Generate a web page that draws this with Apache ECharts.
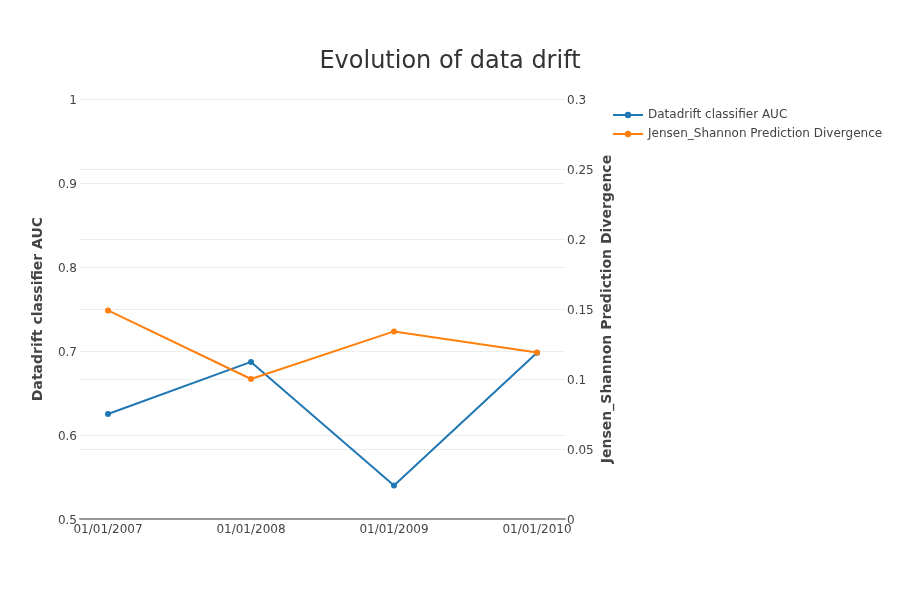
<!DOCTYPE html>
<html>
<head>
<meta charset="utf-8">
<script src="https://cdn.jsdelivr.net/npm/echarts@6/dist/echarts.min.js"></script>
<style>
  html, body { margin: 0; padding: 0; background: #fff; }
  #chart { width: 900px; height: 600px; }
</style>
</head>
<body>
<div id="chart"></div>
<script>
// dates on x, one point per year
const dates = ['01/01/2007', '01/01/2008', '01/01/2009', '01/01/2010'];
const aucValues = [0.625, 0.687, 0.54, 0.698];
const jsValues = [0.149, 0.1, 0.134, 0.119];

const chart = echarts.init(document.getElementById('chart'));
const font = 'DejaVu Sans';

chart.setOption({
  textStyle: { fontFamily: font },
  title: {
    text: 'Evolution of data drift',
    left: 'center',
    top: 45,
    textStyle: { fontSize: 24, fontWeight: 'normal', color: '#333', fontFamily: font }
  },
  legend: {
    orient: 'vertical',
    left: 607,
    top: 104,
    itemWidth: 30,
    itemHeight: 8,
    itemGap: 7,
    textStyle: { fontSize: 12, color: '#444', fontFamily: font },
    data: ['Datadrift classifier AUC', 'Jensen_Shannon Prediction Divergence']
  },
  grid: { left: 80, right: 335, top: 99, bottom: 81 },
  xAxis: {
    type: 'value',
    min: -0.196,
    max: 3.196,
    axisLine: { lineStyle: { color: '#999', width: 2 } },
    axisTick: { show: false },
    splitLine: { show: false },
    axisLabel: {
      customValues: [0, 1, 2, 3],
      formatter: v => dates[Math.round(v)],
      color: '#444',
      fontSize: 12,
      margin: 5
    }
  },
  yAxis: [
    {
      type: 'value',
      min: 0.5,
      max: 1,
      interval: 0.1,
      name: 'Datadrift classifier AUC',
      nameLocation: 'middle',
      nameGap: 35,
      nameTextStyle: { fontSize: 14, fontWeight: 'bold', color: '#444', fontFamily: font },
      axisLine: { show: false },
      axisTick: { show: false },
      axisLabel: { color: '#444', fontSize: 12, margin: 3, verticalAlign: 'top', lineHeight: 4 },
      splitLine: { lineStyle: { color: '#eeeeee', width: 1 } }
    },
    {
      type: 'value',
      min: 0,
      max: 0.3,
      interval: 0.05,
      name: 'Jensen_Shannon Prediction Divergence',
      nameLocation: 'middle',
      nameGap: 35,
      nameMoveOverlap: false,
      nameTextStyle: { fontSize: 14, fontWeight: 'bold', color: '#444', fontFamily: font },
      axisLine: { show: false },
      axisTick: { show: false },
      axisLabel: { color: '#444', fontSize: 12, margin: 2, verticalAlign: 'top', lineHeight: 4 },
      splitLine: { lineStyle: { color: '#eeeeee', width: 1 } }
    }
  ],
  series: [
    {
      name: 'Datadrift classifier AUC',
      type: 'line',
      yAxisIndex: 0,
      data: aucValues.map((v, i) => [i, v]),
      color: '#1f77b4',
      symbol: 'circle',
      symbolSize: 6,
      lineStyle: { width: 2 },
      animation: false
    },
    {
      name: 'Jensen_Shannon Prediction Divergence',
      type: 'line',
      yAxisIndex: 1,
      data: jsValues.map((v, i) => [i, v]),
      color: '#ff7f0e',
      symbol: 'circle',
      symbolSize: 6,
      lineStyle: { width: 2 },
      animation: false
    }
  ]
});
</script>
</body>
</html>
